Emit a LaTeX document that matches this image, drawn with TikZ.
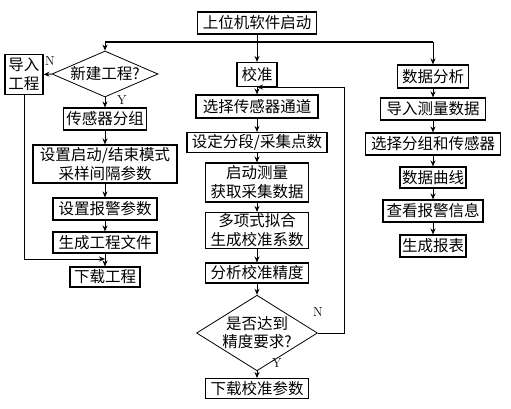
\documentclass[tikz,border=0pt]{standalone}
\usepackage{fontspec}
\newfontfamily\cjk{Noto Sans CJK SC}
\usetikzlibrary{shapes.geometric,arrows.meta}
\begin{document}
\begin{tikzpicture}[x=1pt,y=-1pt,
  box/.style={draw,line width=1.1pt,inner sep=0pt,align=center,font=\cjk\fontsize{15.5}{19}\selectfont},
  dia/.style={draw,diamond,line width=0.8pt,inner sep=0pt,align=center,font=\cjk\fontsize{15.5}{18}\selectfont},
  arr/.style={line width=1pt,-{Stealth[length=6pt,width=5pt]}},
  ln/.style={line width=1pt},
  bar/.style={line width=1.8pt},
  lab/.style={font=\fontsize{13}{13}\selectfont}]
\useasboundingbox (0,0) rectangle (511,408);
% top
\node[box,minimum width=119pt,minimum height=22pt] (start) at (257,23) {上位机软件启动};
\coordinate (bL) at (105,42);
\coordinate (bM) at (257,42);
\coordinate (bR) at (433,42);
% left column
\node[dia,shape aspect=2.3,minimum width=106pt,minimum height=46pt] (d1) at (105,74) {新建工程?};
\node[box,minimum width=38pt,minimum height=40pt] (imp) at (24,74.5) {导入\\工程};
\node[box,minimum width=83pt,minimum height=22pt] (grp) at (105,119) {传感器分组};
\node[box,minimum width=144pt,minimum height=38pt] (mode) at (105,164) {设置启动/结束模式\\采样间隔参数};
\node[box,minimum width=104pt,minimum height=22pt] (alarm) at (105,209) {设置报警参数};
\node[box,minimum width=104pt,minimum height=21pt] (gen) at (105,242.5) {生成工程文件};
\node[box,minimum width=70pt,minimum height=20pt] (dl) at (105,277) {下载工程};
\coordinate (j1) at (105,259);
\node[lab] (N1) at (50,61) {N};
\node[lab] (Y1) at (122,100) {Y};
% middle column
\node[box,minimum width=40pt,minimum height=24pt] (cal) at (257,74.5) {校准};
\node[box,minimum width=122pt,minimum height=23pt] (sel) at (257,106.5) {选择传感器通道};
\node[box,minimum width=140pt,minimum height=20pt] (seg) at (257,142.5) {设定分段/采集点数};
\node[box,minimum width=103pt,minimum height=39pt] (meas) at (257,182.5) {启动测量\\获取采集数据};
\node[box,minimum width=103pt,minimum height=36pt] (fit) at (257,230.5) {多项式拟合\\生成校准系数};
\node[box,minimum width=103pt,minimum height=20pt] (ana) at (257,273) {分析校准精度};
\node[dia,shape aspect=1.6,minimum width=113pt,minimum height=70pt] (d2) at (257,333) {是否达到\\精度要求?};
\node[box,minimum width=103pt,minimum height=20pt] (dlc) at (257,388.5) {下载校准参数};
\node[lab] (N2) at (318,312) {N};
\node[lab] (Y2) at (277,363) {Y};
\coordinate (fbT) at (344,87);
\coordinate (fbE) at (257,87);
% right column
\node[box,minimum width=71pt,minimum height=23pt] (da) at (433,76.5) {数据分析};
\node[box,minimum width=105pt,minimum height=22pt] (imp2) at (433,109) {导入测量数据};
\node[box,minimum width=135pt,minimum height=22pt] (selg) at (433,144) {选择分组和传感器};
\node[box,minimum width=66pt,minimum height=21pt] (curve) at (433,177.5) {数据曲线};
\node[box,minimum width=100pt,minimum height=22pt] (alarm2) at (433,211) {查看报警信息};
\node[box,minimum width=66pt,minimum height=22pt] (rep) at (433,246) {生成报表};
% connectors
\draw[ln] (start.south) -- (bM);
\draw[bar] (bL) -- (bR);
\draw[arr] (bL) -- (d1.north);
\draw[arr] (bM) -- (cal.north);
\draw[arr] (bR) -- (da.north);
\draw[arr] (d1.west) -- (imp.east);
\draw[arr] (d1.south) -- (grp.north);
\draw[arr] (grp) -- (mode);
\draw[arr] (mode) -- (alarm);
\draw[arr] (alarm) -- (gen);
\draw[arr] (gen) -- (dl);
\draw[arr] (imp.south) |- (j1);
\draw[arr] (cal) -- (sel);
\draw[arr] (sel) -- (seg);
\draw[arr] (seg) -- (meas);
\draw[arr] (meas) -- (fit);
\draw[arr] (fit) -- (ana);
\draw[arr] (ana) -- (d2);
\draw[arr] (d2) -- (dlc);
\draw[arr] (d2.east) -| (fbT) -- (fbE);
\draw[arr] (da) -- (imp2);
\draw[arr] (imp2) -- (selg);
\draw[arr] (selg) -- (curve);
\draw[arr] (curve) -- (alarm2);
\draw[arr] (alarm2) -- (rep);
\end{tikzpicture}
\end{document}
